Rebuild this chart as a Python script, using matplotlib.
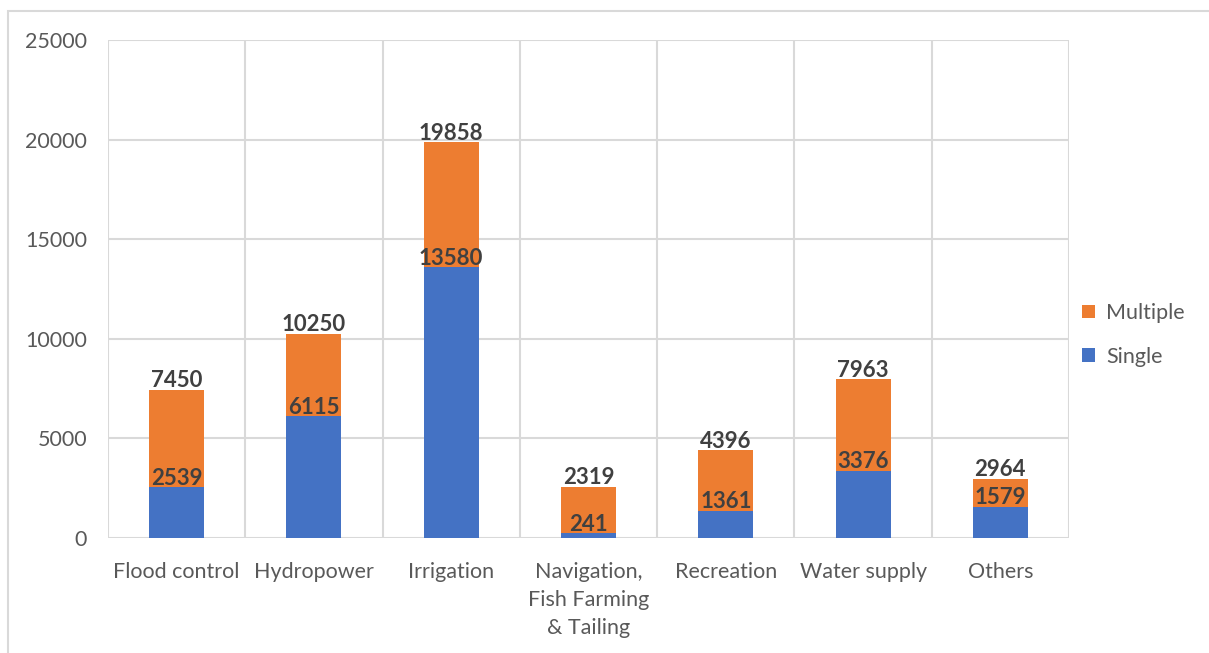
import matplotlib.pyplot as plt
from matplotlib.patches import Rectangle
import numpy as np

categories = ['Flood control', 'Hydropower', 'Irrigation',
              'Navigation,\nFish Farming\n& Tailing', 'Recreation',
              'Water supply', 'Others']
single = [2539, 6115, 13580, 241, 1361, 3376, 1579]
# bar tops
bar_top = [7450, 10250, 19858, 2560, 4396, 7963, 2964]
# labels printed above the bars
top_labels = [7450, 10250, 19858, 2319, 4396, 7963, 2964]
multiple = [t - s for t, s in zip(bar_top, single)]

blue = '#4472C4'
orange = '#ED7D31'
grid_col = '#D9D9D9'
txt_col = '#595959'
lbl_col = '#404040'

plt.rcParams['font.family'] = ['Lato', 'DejaVu Sans']

fig = plt.figure(figsize=(12.09, 6.53), dpi=100)
ax = fig.add_axes([108 / 1209, 1 - 538 / 653, (1069 - 108) / 1209, (538 - 40) / 653])

x = np.arange(len(categories))
ax.bar(x, single, width=0.4, color=blue, label='Single', zorder=3)
ax.bar(x, multiple, width=0.4, bottom=single, color=orange, label='Multiple', zorder=3)

for xi, s, t, lab in zip(x, single, bar_top, top_labels):
    ax.annotate(str(s), (xi, s), xytext=(0, -1), textcoords='offset points',
                ha='center', va='bottom', fontsize=16, fontweight='bold',
                color=lbl_col, zorder=4)
    ax.annotate(str(lab), (xi, t), xytext=(0, -1), textcoords='offset points',
                ha='center', va='bottom', fontsize=16, fontweight='bold',
                color=lbl_col, zorder=4)

ax.set_xlim(-0.5, len(categories) - 0.5)
ax.set_ylim(0, 25000)
ax.set_yticks(range(0, 25001, 5000))
ax.set_xticks(x)
ax.set_xticklabels(categories, linespacing=1.5, va='top')
ax.tick_params(axis='both', length=0, labelsize=15.5, labelcolor=txt_col)
ax.tick_params(axis='y', pad=15)
ax.tick_params(axis='x', pad=17)

# horizontal grid and category separators
ax.grid(axis='y', color=grid_col, lw=1.5, zorder=0)
for b in np.arange(-0.5, len(categories), 1.0):
    ax.axvline(b, color=grid_col, lw=1.5, zorder=0)
for sp in ax.spines.values():
    sp.set_visible(False)

handles, labels = ax.get_legend_handles_labels()
fig.legend(handles[::-1], labels[::-1], loc='center left',
           bbox_to_anchor=(1063 / 1209, 1 - 335 / 653), frameon=False,
           fontsize=15.5, labelcolor=txt_col, handlelength=0.6, handleheight=0.6,
           handletextpad=0.5, labelspacing=1.1)

# outer chart border
fig.patches.append(Rectangle((8 / 1209, -0.1), 1.2, 1 - 11 / 653 + 0.1,
                             transform=fig.transFigure, fill=False,
                             edgecolor=grid_col, lw=1.5))

fig.savefig('out.png', dpi=100)
